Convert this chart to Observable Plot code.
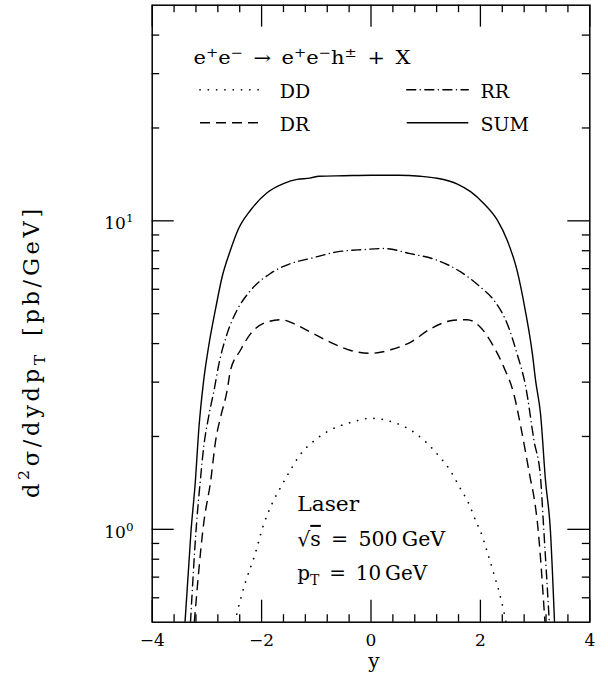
<!DOCTYPE html>
<html>
<head>
<meta charset="utf-8">
<script src="https://cdn.jsdelivr.net/npm/d3@7"></script>
<script src="https://cdn.jsdelivr.net/npm/@observablehq/plot@0.6"></script>
<style>
  html, body { margin: 0; padding: 0; background: #fff; }
  #chart svg { display: block; }
</style>
</head>
<body>
<div id="chart"></div>
<script>
// Rapidity distribution of charged hadrons, e+e- -> e+e- h± + X (laser photons)
// d²σ/dy dpT in pb/GeV, contributions DD, DR, RR and their sum.

const sumRap = [-3.40, -3.29, -3.21, -3.15, -3.06, -2.97, -2.84, -2.72, -2.57, -2.42, -2.20, -1.90, -1.59, -1.35, -1.12, -0.95, -0.5, 0.0, 0.5, 0.9, 1.21, 1.58, 1.82, 2.06, 2.31, 2.49, 2.67, 2.82, 2.95, 3.01, 3.10, 3.19, 3.28, 3.355];
const sumVal = [0.5, 0.99, 1.44, 2.09, 3.03, 3.9, 5.2, 6.6, 8.03, 9.44, 10.84, 12.33, 13.23, 13.63, 13.75, 13.95, 14.0, 14.05, 14.05, 13.95, 13.74, 13.16, 12.43, 11.39, 10.05, 8.65, 6.91, 5.13, 3.71, 3.03, 2.36, 1.44, 0.99, 0.5];

const rrRap = [-3.30, -3.19, -3.12, -3.06, -2.97, -2.87, -2.78, -2.63, -2.45, -2.20, -1.84, -1.47, -1.11, -0.62, -0.14, 0.23, 0.72, 1.21, 1.64, 2.00, 2.25, 2.49, 2.67, 2.83, 2.98, 3.10, 3.15, 3.26];
const rrVal = [0.5, 1.04, 1.44, 1.84, 2.31, 2.82, 3.44, 4.31, 5.13, 5.95, 6.75, 7.27, 7.55, 7.93, 8.07, 8.13, 7.83, 7.45, 6.83, 6.10, 5.52, 4.64, 3.71, 2.89, 1.94, 1.47, 1.06, 0.5];

const drRap = [-3.23, -3.06, -2.93, -2.84, -2.75, -2.63, -2.57, -2.39, -2.20, -1.90, -1.65, -1.41, -1.11, -0.74, -0.37, 0.0, 0.36, 0.72, 1.09, 1.51, 1.76, 2.00, 2.25, 2.43, 2.61, 2.73, 2.82, 2.91, 2.98, 3.04, 3.18];
const drVal = [0.5, 1.04, 1.44, 1.94, 2.31, 2.82, 3.27, 3.80, 4.31, 4.70, 4.78, 4.64, 4.36, 4.04, 3.80, 3.72, 3.82, 4.04, 4.47, 4.76, 4.78, 4.52, 3.89, 3.35, 2.75, 2.19, 1.80, 1.47, 1.27, 1.06, 0.5];

const ddRap = [-2.49, -2.45, -2.29, -2.14, -1.96, -1.81, -1.65, -1.47, -1.29, -1.05, -0.74, -0.37, 0.0, 0.42, 0.72, 1.00, 1.24, 1.45, 1.62, 1.79, 1.93, 2.00, 2.12, 2.25, 2.37, 2.47];
const ddVal = [0.5, 0.535, 0.679, 0.809, 1.04, 1.21, 1.37, 1.56, 1.75, 1.93, 2.10, 2.22, 2.29, 2.22, 2.10, 1.92, 1.73, 1.55, 1.37, 1.21, 1.05, 0.987, 0.85, 0.714, 0.60, 0.5];

const seriesNames = ["DD", "RR", "DR", "SUM"];
const xMajorTicks = [-4, -2, 0, 2, 4];
const xMinorTicks = d3.range(-4, 4.001, 0.4).map(v => +v.toFixed(1)).filter(v => !xMajorTicks.includes(v));
const yMajorTicks = [1, 10];
const yMinorTicks = [0.6, 0.7, 0.8, 0.9, 2, 3, 4, 5, 6, 7, 8, 9, 20, 30, 40];

const titleText = "e^{+}e^{−}\u2002\u2192\u2002e^{+}e^{−}h^{±}\u2002+\u2002X";
const yTitleText = "d^{2}σ/dydp_{T}\u2002[pb/GeV]";
const noteTexts = ["Laser", "\u221A~{s}\u2002=\u2002500\u2009GeV", "p_{T}\u2002=\u200210\u2009GeV"];

// line styles per contribution
const styles = {
  DD:  {strokeDasharray: "0.1,8.2", strokeWidth: 1.7, strokeLinecap: "round"},
  RR:  {strokeDasharray: "9,4.5,0.1,4.5", strokeWidth: 1.4, strokeLinecap: "round"},
  DR:  {strokeDasharray: "10,6", strokeWidth: 1.4, strokeLinecap: "butt"},
  SUM: {strokeDasharray: null, strokeWidth: 1.4, strokeLinecap: "butt"}
};

const rows = [
  ...ddRap.map((r, i) => ({s: "DD", r, v: ddVal[i]})),
  ...rrRap.map((r, i) => ({s: "RR", r, v: rrVal[i]})),
  ...drRap.map((r, i) => ({s: "DR", r, v: drVal[i]})),
  ...sumRap.map((r, i) => ({s: "SUM", r, v: sumVal[i]}))
];

// figure geometry
const W = 608, H = 685;
const mL = 151.7, mR = 18.7, mT = 4.7, mB = 63.3;
const innerH = H - mT - mB, innerW = W - mL - mR;
const majorLen = 22, minorLen = 7.5;
const font = "DejaVu Serif";

// legend rows (in data units)
const legendRows = [
  {s: "DD",  x1: -3.117, x2: -2.02, v: 26.6, tx: -1.667, tv: 26.2},
  {s: "RR",  x1: 0.662,  x2: 1.788, v: 26.6, tx: 2.0,    tv: 26.2},
  {s: "DR",  x1: -3.117, x2: -2.02, v: 20.8, tx: -1.667, tv: 20.5},
  {s: "SUM", x1: 0.662,  x2: 1.788, v: 20.8, tx: 2.0,    tv: 20.5}
];

const notes = [
  {text: titleText, x: -3.245, v: 33.6, size: 18},
  {text: noteTexts[0], x: -1.349, v: 1.20, size: 20},
  {text: noteTexts[1], x: -1.349, v: 0.929, size: 20},
  {text: noteTexts[2], x: -1.349, v: 0.720, size: 20}
];

// rendered widths of the wide text lines: "scale" widens the glyphs, "space" spreads the letters
const textWidths = new Map([
  [titleText, {width: 217, mode: "scale"}],
  [yTitleText, {width: 293, mode: "space"}],
  [noteTexts[0], {width: 62, mode: "scale"}],
  [noteTexts[1], {width: 148, mode: "scale"}],
  [noteTexts[2], {width: 130, mode: "scale"}]
]);

const lineMarks = seriesNames.map(name => Plot.line(rows.filter(d => d.s === name), {
  x: "r", y: "v", stroke: "black", curve: "monotone-x", clip: true, ...styles[name]
}));

const legendMarks = legendRows.map(d => Plot.ruleY([d], {
  y: "v", x1: "x1", x2: "x2", stroke: "black", ...styles[d.s]
}));

const plot = Plot.plot({
  width: W, height: H,
  marginLeft: mL, marginRight: mR, marginTop: mT, marginBottom: mB,
  style: {fontFamily: font, background: "white", color: "black"},
  x: {domain: [-4, 4], axis: null},
  y: {type: "log", domain: [0.5, 50], axis: null},
  marks: [
    ...lineMarks,
    // ticks along the four sides, pointing inward
    Plot.tickX(xMajorTicks, {x: d => d, insetTop: innerH - majorLen, stroke: "black", strokeWidth: 1.3}),
    Plot.tickX(xMinorTicks, {x: d => d, insetTop: innerH - minorLen, stroke: "black", strokeWidth: 1.3}),
    Plot.tickX(xMajorTicks, {x: d => d, insetBottom: innerH - majorLen, stroke: "black", strokeWidth: 1.3}),
    Plot.tickX(xMinorTicks, {x: d => d, insetBottom: innerH - minorLen, stroke: "black", strokeWidth: 1.3}),
    Plot.tickY(yMajorTicks, {y: d => d, insetRight: innerW - majorLen, stroke: "black", strokeWidth: 1.3}),
    Plot.tickY(yMinorTicks, {y: d => d, insetRight: innerW - minorLen, stroke: "black", strokeWidth: 1.3}),
    Plot.tickY(yMajorTicks, {y: d => d, insetLeft: innerW - majorLen, stroke: "black", strokeWidth: 1.3}),
    Plot.tickY(yMinorTicks, {y: d => d, insetLeft: innerW - minorLen, stroke: "black", strokeWidth: 1.3}),
    Plot.frame({stroke: "black", strokeWidth: 1.5}),
    // axis labels
    Plot.axisX(xMajorTicks, {tickSize: 0, tickPadding: 12, fontSize: 17, label: null,
      tickFormat: d => d < 0 ? "\u2212" + (-d) : String(d)}),
    Plot.text(yMajorTicks, {x: -4, y: d => d, text: d => "10^{" + Math.round(Math.log10(d)) + "}",
      textAnchor: "end", dx: -18.7, dy: 3.2, fontSize: 17, fill: "black"}),
    Plot.text(["y"], {x: 0, frameAnchor: "bottom", text: d => d, lineAnchor: "top",
      dx: 3, dy: 32, fontSize: 20, fill: "black"}),
    Plot.text([yTitleText], {x: -4, y: 3.77, text: d => d, rotate: -90,
      dx: -120.5, fontSize: 22.5, fill: "black"}),
    // legend
    ...legendMarks,
    Plot.text(legendRows, {x: "tx", y: "tv", text: "s", textAnchor: "start", fontSize: 19, fill: "black"}),
    Plot.text(notes, {x: "x", y: "v", text: "text", textAnchor: "start", fontSize: "size", fill: "black"})
  ]
});

document.getElementById("chart").appendChild(plot);

// turn ^{..} / _{..} / ~{..} markup into superscript, subscript and overline spans
function richText(t) {
  const NS = "http://www.w3.org/2000/svg";
  const src = t.textContent;
  if (!/[\^_~]\{/.test(src)) return;
  const fs = parseFloat(getComputedStyle(t).fontSize) || 17;
  t.textContent = "";
  let shift = 0;
  const add = (str, kind) => {
    const ts = document.createElementNS(NS, "tspan");
    ts.textContent = str;
    let target = 0;
    if (kind === "^") { ts.setAttribute("font-size", (fs * 0.7).toFixed(1)); target = -0.42 * fs; }
    else if (kind === "_") { ts.setAttribute("font-size", (fs * 0.7).toFixed(1)); target = 0.25 * fs; }
    else if (kind === "~") { ts.setAttribute("text-decoration", "overline"); }
    if (target - shift !== 0) ts.setAttribute("dy", (target - shift).toFixed(2));
    shift = target;
    t.appendChild(ts);
  };
  const re = /([\^_~])\{([^}]*)\}/g;
  let last = 0, m;
  while ((m = re.exec(src))) {
    if (m.index > last) add(src.slice(last, m.index), "");
    add(m[2], m[1]);
    last = re.lastIndex;
  }
  if (last < src.length) add(src.slice(last), "");
}

// bring a text line to a given length, either by widening the glyphs or by letter spacing
function fit(t, {width, mode}) {
  const w = t.getComputedTextLength();
  if (!w) return;
  if (mode === "space") {
    const n = t.textContent.length;
    t.style.letterSpacing = Math.max(0, (width - w) / n).toFixed(2) + "px";
    return;
  }
  const sx = width / w;
  const tr = t.getAttribute("transform");
  if (tr) t.setAttribute("transform", tr + ` scale(${sx.toFixed(4)},1)`);
  else {
    const x = +t.getAttribute("x") || 0;
    t.setAttribute("transform", `translate(${x},0) scale(${sx.toFixed(4)},1) translate(${-x},0)`);
  }
}

plot.querySelectorAll("text").forEach(t => {
  const src = t.textContent;
  richText(t);
  if (textWidths.has(src)) fit(t, textWidths.get(src));
});
</script>
</body>
</html>
